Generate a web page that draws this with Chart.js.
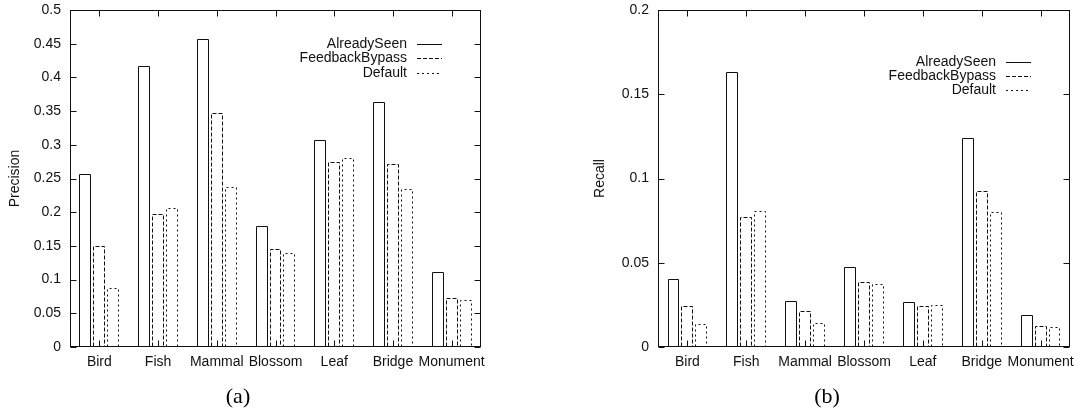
<!DOCTYPE html>
<html>
<head>
<meta charset="utf-8">
<script src="https://cdn.jsdelivr.net/npm/chart.js@4.4.1/dist/chart.umd.min.js"></script>
<style>
  body { margin: 0; background: #fff; width: 1077px; height: 415px; position: relative; overflow: hidden; }
  .panel { position: absolute; top: 0; height: 415px; }
  .caption { position: absolute; top: 385px; font: 22px "Liberation Serif", "Times New Roman", serif; line-height: 22px; color: #000; transform: translateX(-50%); }
</style>
</head>
<body>
<div class="panel" style="left:0;width:540px"><canvas id="precision"></canvas></div>
<div class="panel" style="left:540px;width:537px"><canvas id="recall"></canvas></div>
<div class="caption" style="left:238px">(a)</div>
<div class="caption" style="left:827px">(b)</div>
<script>
const categories = ['Bird', 'Fish', 'Mammal', 'Blossom', 'Leaf', 'Bridge', 'Monument'];
const seriesNames = ['AlreadySeen', 'FeedbackBypass', 'Default'];

// (a) precision
const precisionAlreadySeen    = [0.256, 0.417, 0.457, 0.179, 0.307, 0.363, 0.112];
const precisionFeedbackBypass = [0.150, 0.197, 0.347, 0.145, 0.275, 0.272, 0.072];
const precisionDefault        = [0.087, 0.206, 0.238, 0.139, 0.281, 0.235, 0.070];

// (b) recall
const recallAlreadySeen    = [0.0406, 0.1632, 0.0275, 0.0477, 0.0269, 0.1238, 0.0192];
const recallFeedbackBypass = [0.0242, 0.0772, 0.0212, 0.0386, 0.0244, 0.0925, 0.0123];
const recallDefault        = [0.0139, 0.0806, 0.0145, 0.0372, 0.0248, 0.0804, 0.0119];

const dashes = [[], [4, 2], [2, 3]];
const ink = '#111';
const font = { family: '"Liberation Sans", Arial, sans-serif', size: 14 };

// gnuplot look: outlined bars, closed frame, inside ticks, legend top right
const gnuplotFrame = {
    id: 'gnuplotFrame',
    afterDatasetsDraw(chart, args, opts) {
        const ctx = chart.ctx;
        const { left, right, top, bottom } = chart.chartArea;
        const L = Math.round(left) + 0.5, R = Math.round(right) - 0.5;
        const T = Math.round(top) + 0.5, B = Math.round(bottom) - 0.5;
        ctx.save();
        ctx.strokeStyle = ink;
        ctx.lineWidth = 1;

        // bar outlines
        chart.data.datasets.forEach((ds, i) => {
            ctx.setLineDash(dashes[i]);
            chart.getDatasetMeta(i).data.forEach(bar => {
                const x0 = Math.round(bar.x - bar.width / 2) + 0.5;
                const x1 = Math.round(bar.x + bar.width / 2) - 0.5;
                const y = Math.round(bar.y) + 0.5;
                ctx.beginPath();
                ctx.moveTo(x0, B);
                ctx.lineTo(x0, y);
                ctx.lineTo(x1, y);
                ctx.lineTo(x1, B);
                ctx.stroke();
            });
        });
        ctx.setLineDash([]);

        // ticks, pointing inward on all four sides
        const xs = chart.scales.x, ys = chart.scales.y;
        ctx.beginPath();
        ys.ticks.forEach(t => {
            const y = Math.round(ys.getPixelForValue(t.value)) + 0.5;
            ctx.moveTo(L, y); ctx.lineTo(L + 6, y);
            ctx.moveTo(R, y); ctx.lineTo(R - 6, y);
        });
        xs.ticks.forEach((t, i) => {
            const x = Math.round(xs.getPixelForTick(i)) + 0.5;
            ctx.moveTo(x, T); ctx.lineTo(x, T + 6);
            ctx.moveTo(x, B); ctx.lineTo(x, B - 6);
        });
        ctx.stroke();

        // frame
        ctx.strokeRect(L, T, R - L, B - T);

        // legend
        ctx.font = '14px "Liberation Sans", Arial, sans-serif';
        ctx.fillStyle = ink;
        ctx.textAlign = 'right';
        ctx.textBaseline = 'middle';
        chart.data.datasets.forEach((ds, i) => {
            const y = Math.round(top + opts.legendTop + i * 14.4) + 0.5;
            ctx.fillText(ds.label, right - 74, y);
            ctx.setLineDash(dashes[i]);
            ctx.beginPath();
            ctx.moveTo(right - 64, y);
            ctx.lineTo(right - 39, y);
            ctx.stroke();
        });
        ctx.restore();
    }
};

function buildChart(id, series, yMax, yStep, yTitle, yWidth, titleGap, rightPad, legendTop) {
    return new Chart(document.getElementById(id), {
        type: 'bar',
        data: {
            labels: categories,
            datasets: seriesNames.map((name, i) => ({
                label: name,
                data: series[i],
                backgroundColor: '#fff',
                borderWidth: 0,
                categoryPercentage: 0.71,
                barPercentage: 0.86
            }))
        },
        options: {
            responsive: true,
            maintainAspectRatio: false,
            animation: false,
            layout: { padding: { left: 0, right: rightPad, top: 10, bottom: 0 } },
            plugins: {
                legend: { display: false },
                tooltip: { enabled: false },
                gnuplotFrame: { legendTop: legendTop }
            },
            scales: {
                x: {
                    grid: { display: false, drawTicks: false },
                    border: { display: false },
                    ticks: { padding: 7, color: ink, font: font, maxRotation: 0, autoSkip: false },
                    afterFit: s => { s.height = 68; s.paddingLeft = 0; s.paddingRight = 0; }
                },
                y: {
                    min: 0,
                    max: yMax,
                    grid: { display: false, drawTicks: false },
                    border: { display: false },
                    ticks: { stepSize: yStep, padding: 9, color: ink, font: font, callback: v => String(+v.toFixed(2)) },
                    title: { display: true, text: yTitle, color: ink, font: font, padding: { top: titleGap, bottom: 0 } },
                    afterFit: s => { s.width = yWidth; s.paddingTop = 0; s.paddingBottom = 0; }
                }
            }
        },
        plugins: [gnuplotFrame]
    });
}

buildChart('precision',
    [precisionAlreadySeen, precisionFeedbackBypass, precisionDefault],
    0.5, 0.05, 'Precision', 70, 7, 59, 34);

buildChart('recall',
    [recallAlreadySeen, recallFeedbackBypass, recallDefault],
    0.2, 0.05, 'Recall', 118, 52, 7, 51.5);
</script>
</body>
</html>
